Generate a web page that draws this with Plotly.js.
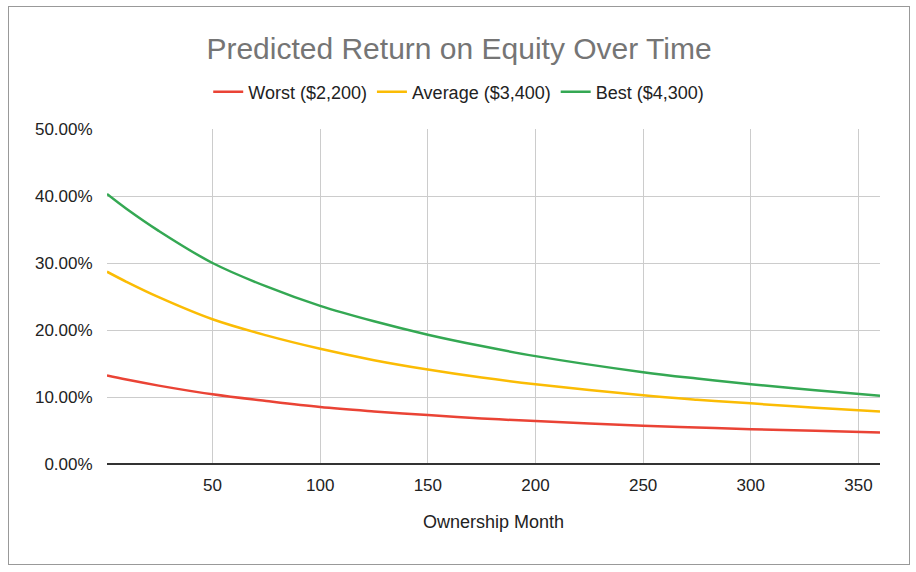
<!DOCTYPE html>
<html>
<head>
<meta charset="utf-8">
<script src="https://cdn.plot.ly/plotly-3.0.1.min.js"></script>
<style>
  body { margin: 0; background: #fff; }
  #frame { position: absolute; left: 8px; top: 6px; width: 900px; height: 557px; border: 1px solid #999; }
</style>
</head>
<body>
<div id="frame"><div id="roe"></div></div>
<script>
// months and return on equity
var months = [1, 10, 25, 50, 75, 100, 125, 150, 175, 200, 250, 275, 300, 330, 360];
var worst  = [0.132, 0.126, 0.117, 0.104, 0.094, 0.085, 0.0785, 0.073, 0.068, 0.064, 0.057, 0.0545, 0.052, 0.0495, 0.047];
var avg    = [0.287, 0.272, 0.249, 0.216, 0.192, 0.172, 0.155, 0.141, 0.129, 0.119, 0.1025, 0.096, 0.0905, 0.084, 0.0785];
var best   = [0.403, 0.381, 0.348, 0.300, 0.265, 0.236, 0.213, 0.193, 0.176, 0.161, 0.137, 0.1275, 0.119, 0.110, 0.102];

var names  = ['Worst ($2,200)', 'Average ($3,400)', 'Best ($4,300)'];
var colors = ['#EA4335', '#FBBC04', '#34A853'];
var series = [worst, avg, best];

var font = 'Arial, "Liberation Sans", sans-serif';

var data = [];
for (var i = 0; i < series.length; i++) {
    data.push({
        x: months,
        y: series[i],
        name: names[i],
        mode: 'lines',
        type: 'scatter',
        line: {color: colors[i], width: 2.5, shape: 'spline', smoothing: 1}
    });
}

var layout = {
    width: 900,
    height: 557,
    margin: {l: 98, r: 29, t: 122, b: 100, autoexpand: false},
    paper_bgcolor: '#fff',
    plot_bgcolor: '#fff',
    font: {family: font, size: 17, color: '#222'},
    title: {
        text: 'Predicted Return on Equity Over Time',
        font: {family: font, size: 30, color: '#757575'},
        xref: 'container',
        x: 0.5,
        xanchor: 'center',
        yref: 'container',
        y: 0.925,
        yanchor: 'middle'
    },
    showlegend: true,
    legend: {
        orientation: 'h',
        x: 0.455,
        xanchor: 'center',
        y: 1.11,
        yanchor: 'middle',
        font: {family: font, size: 18, color: '#222'},
        traceorder: 'normal'
    },
    xaxis: {
        range: [1, 360],
        tick0: 0,
        dtick: 50,
        showgrid: true,
        gridcolor: '#cccccc',
        gridwidth: 1,
        zeroline: false,
        showline: false,
        ticks: 'outside',
        ticklen: 6,
        tickcolor: 'rgba(0,0,0,0)',
        tickfont: {family: font, size: 17, color: '#222'},
        title: {
            text: 'Ownership Month',
            font: {family: font, size: 18, color: '#222'},
            standoff: 20
        }
    },
    yaxis: {
        range: [0, 0.5],
        dtick: 0.1,
        tickformat: '.2%',
        showgrid: true,
        gridcolor: '#cccccc',
        gridwidth: 1,
        zeroline: true,
        zerolinecolor: '#333333',
        zerolinewidth: 1.5,
        ticks: 'outside',
        ticklen: 10,
        tickcolor: 'rgba(0,0,0,0)',
        tickfont: {family: font, size: 17, color: '#222'}
    }
};

Plotly.newPlot('roe', data, layout, {displayModeBar: false, staticPlot: true});
</script>
</body>
</html>
